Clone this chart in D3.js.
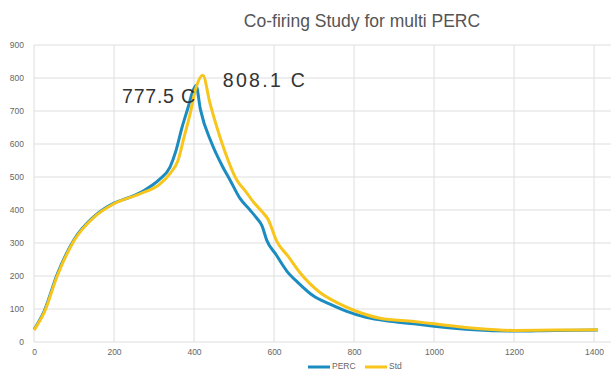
<!DOCTYPE html>
<html>
<head>
<meta charset="utf-8">
<script src="https://cdn.jsdelivr.net/npm/d3@7"></script>
<style>
  body { margin: 0; background: #fff; }
  text { font-family: "Liberation Sans", Arial, sans-serif; }
</style>
</head>
<body>
<figure id="cofiring" style="margin:0"></figure>
<script>
// temperature profile
const percTemp = [0, 25, 58, 100, 150, 200, 240, 276, 313, 340, 355, 370, 385, 397, 405, 416, 444, 470, 490, 515, 540, 557, 570, 582, 605, 632, 660, 698, 740, 782, 830, 890, 950, 1000, 1100, 1200, 1300, 1410];
const percValue = [38, 92, 205, 310, 380, 421, 439, 460, 492, 530, 580, 650, 710, 760, 777.5, 705, 603, 535, 491, 435, 400, 375, 352, 308, 265, 215, 180, 140, 115, 93, 75, 63, 55, 48, 37, 33, 35, 36];
const stdTemp = [0, 25, 58, 100, 150, 200, 267, 313, 341, 360, 375, 390, 405, 422, 440, 473, 507, 530, 548, 570, 585, 607, 635, 665, 715, 760, 798, 865, 950, 1000, 1100, 1200, 1300, 1410];
const stdValue = [36, 88, 200, 307, 378, 419, 450, 477, 512, 550, 620, 690, 770, 808.1, 723, 592, 491, 455, 425, 395, 372, 305, 260, 210, 150, 118, 97, 72, 62, 55, 42, 35, 36, 37];
const xTicks = [0, 200, 400, 600, 800, 1000, 1200, 1400];
const yTicks = [0, 100, 200, 300, 400, 500, 600, 700, 800, 900];
const seriesNames = ["PERC", "Std"];
const seriesColors = ["#1b8cc0", "#f8c51c"];
const peakLabels = ["777.5 C", "808.1 C"];

const width = 611, height = 372;
const svg = d3.select("figure#cofiring")
  .append("svg")
  .attr("width", width)
  .attr("height", height);

const xScale = d3.scaleLinear().domain([0, 1400]).range([34, 594]);
const yScale = d3.scaleLinear().domain([0, 900]).range([342, 45]);

// grid
svg.append("g")
  .selectAll("line")
  .data(yTicks)
  .join("line")
  .attr("x1", xScale(0)).attr("x2", width)
  .attr("y1", d => yScale(d)).attr("y2", d => yScale(d))
  .style("stroke", "#dedede").style("stroke-width", 1);
svg.append("g")
  .selectAll("line")
  .data(xTicks)
  .join("line")
  .attr("x1", d => xScale(d)).attr("x2", d => xScale(d))
  .attr("y1", yScale(900)).attr("y2", yScale(0))
  .style("stroke", "#dedede").style("stroke-width", 1);

// axes (labels only, Excel style)
const xAxis = svg.append("g")
  .attr("transform", `translate(0,${yScale(0) + 4})`)
  .call(d3.axisBottom(xScale).tickValues(xTicks).tickSize(0).tickFormat(d3.format("d")));
const yAxis = svg.append("g")
  .attr("transform", `translate(${xScale(0) - 7},0)`)
  .call(d3.axisLeft(yScale).tickValues(yTicks).tickSize(0).tickFormat(d3.format("d")));
[xAxis, yAxis].forEach(a => {
  a.select(".domain").remove();
  a.selectAll("text")
    .style("font-size", "8.5px")
    .style("fill", "#666")
    .style("font-family", "'Liberation Sans', Arial, sans-serif");
});

// title
svg.append("text")
  .attr("x", 362)
  .attr("y", 27)
  .style("text-anchor", "middle")
  .style("font-size", "17.5px")
  .style("fill", "#555")
  .text("Co-firing Study for multi PERC");

// lines
const series = [
  {name: seriesNames[0], temp: percTemp, value: percValue},
  {name: seriesNames[1], temp: stdTemp, value: stdValue}
];
const line = d3.line()
  .x(d => xScale(d[0]))
  .y(d => yScale(d[1]))
  .curve(d3.curveMonotoneX);

svg.append("g")
  .selectAll("path")
  .data(series)
  .join("path")
  .style("fill", "none")
  .style("stroke-width", 3)
  .style("stroke-linejoin", "round")
  .style("stroke", (d, i) => seriesColors[i])
  .attr("d", d => line(d.temp.map((t, i) => [t, d.value[i]])));

// peak annotations
const percPeak = d3.maxIndex(percValue);
const stdPeak = d3.maxIndex(stdValue);
svg.append("text")
  .attr("x", xScale(percTemp[percPeak]) - 74)
  .attr("y", yScale(percValue[percPeak]) + 18)
  .attr("textLength", 73)
  .attr("lengthAdjust", "spacing")
  .style("font-size", "19.5px")
  .style("fill", "#333")
  .text(peakLabels[0]);
svg.append("text")
  .attr("x", xScale(stdTemp[stdPeak]) + 20)
  .attr("y", yScale(stdValue[stdPeak]) + 12)
  .attr("textLength", 82)
  .attr("lengthAdjust", "spacing")
  .style("font-size", "19.5px")
  .style("fill", "#333")
  .text(peakLabels[1]);

// legend at the bottom edge
const legend = svg.append("g").attr("transform", "translate(308,366)");
const legendX = [0, 57];
seriesNames.forEach((name, i) => {
  legend.append("line")
    .attr("x1", legendX[i]).attr("x2", legendX[i] + 22)
    .attr("y1", 1).attr("y2", 1)
    .style("stroke", seriesColors[i]).style("stroke-width", 3);
  legend.append("text")
    .attr("x", legendX[i] + 24)
    .attr("y", 3)
    .style("font-size", "8.5px")
    .style("fill", "#666")
    .text(name);
});
</script>
</body>
</html>
